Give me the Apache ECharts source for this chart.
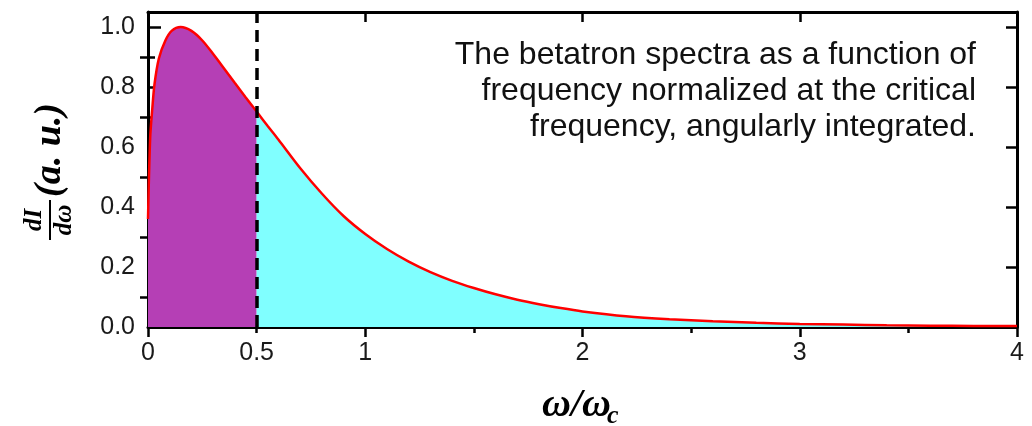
<!DOCTYPE html>
<html>
<head>
<meta charset="utf-8">
<script src="https://cdn.jsdelivr.net/npm/echarts@6/dist/echarts.min.js"></script>
<style>
  html, body { margin: 0; padding: 0; background: #fff; }
  #chart { width: 1032px; height: 426px; }
</style>
</head>
<body>
<div id="chart"></div>
<script>
var xs = [0, 0.01, 0.02, 0.03, 0.05, 0.08, 0.11, 0.15, 0.2, 0.25, 0.3, 0.35, 0.4, 0.45, 0.5,
  0.55, 0.6, 0.7, 0.8, 0.9, 1.0, 1.1, 1.2, 1.3, 1.4, 1.5, 1.6, 1.7, 1.8, 1.9, 2.0,
  2.2, 2.4, 2.6, 2.8, 3.0, 3.2, 3.4, 3.6, 3.8, 4.0];
var ys = [0.36, 0.63, 0.73, 0.81, 0.895, 0.955, 0.988, 1.0, 0.987, 0.955, 0.91, 0.862, 0.813, 0.765, 0.718,
  0.671, 0.625, 0.53, 0.445, 0.37, 0.31, 0.26, 0.218, 0.183, 0.154, 0.13, 0.109, 0.091, 0.076, 0.063, 0.052,
  0.036, 0.026, 0.019, 0.014, 0.010, 0.008, 0.006, 0.0045, 0.0035, 0.003];
var cutX = 0.5;
var xLabels = [0, 0.5, 1, 2, 3, 4];
var xMajor = [0, 1, 2, 3, 4];
var xMinor = [0.5, 1.5, 2.5, 3.5];
var yMajor = [0, 0.2, 0.4, 0.6, 0.8, 1.0];
var yMinor = [0.1, 0.3, 0.5, 0.7, 0.9];
var noteLines = [
  'The betatron spectra as a function of',
  'frequency normalized at the critical',
  'frequency, angularly integrated.'
];

var pairs = xs.map(function(x, i) { return [x, ys[i]]; });
var lowPart = pairs.filter(function(d) { return d[0] <= cutX; });
var highPart = pairs.filter(function(d) { return d[0] >= cutX; });

var chart = echarts.init(document.getElementById('chart'));
var labelFont = { fontFamily: 'Liberation Sans', fontSize: 25, color: '#1a1a1a' };
var mathFont = '"Liberation Serif"';
var smoothness = 0.3;

function frameAxis(pos, opts) {
  var base = {
    type: 'value', position: pos, min: 0,
    axisLine: { show: true, onZero: false, lineStyle: { color: '#000', width: 3 } },
    axisTick: { show: false },
    axisLabel: { show: false },
    splitLine: { show: false }
  };
  return Object.assign(base, opts);
}

var option = {
  animation: false,
  grid: { left: 148, right: 15, top: 12, bottom: 99 },
  xAxis: [
    frameAxis('bottom', {
      max: 4,
      axisTick: { show: true, customValues: xMajor, length: 10, lineStyle: { color: '#000', width: 2.5 } },
      axisLabel: Object.assign({ show: true, margin: 14, customValues: xLabels }, labelFont)
    }),
    frameAxis('bottom', {
      max: 4,
      axisLine: { show: false },
      axisTick: { show: true, customValues: xMinor, length: 6, lineStyle: { color: '#000', width: 2.5 } }
    }),
    frameAxis('top', {
      max: 4,
      axisTick: { show: true, inside: true, customValues: [1, 2, 3], length: 10, lineStyle: { color: '#000', width: 2.5 } }
    })
  ],
  yAxis: [
    frameAxis('left', {
      max: 1.05,
      axisTick: { show: true, inside: true, customValues: yMajor, length: 13, lineStyle: { color: '#000', width: 2.5 } },
      axisLabel: Object.assign({
        show: true, margin: 13, customValues: yMajor,
        formatter: function(v) { return v.toFixed(1); }
      }, labelFont)
    }),
    frameAxis('left', {
      max: 1.05,
      axisLine: { show: false },
      axisTick: { show: true, inside: true, customValues: yMinor, length: 7, lineStyle: { color: '#000', width: 2.5 } }
    }),
    frameAxis('right', {
      max: 1.05,
      axisTick: { show: true, inside: true, customValues: yMajor, length: 11, lineStyle: { color: '#000', width: 2.5 } }
    }),
    frameAxis('right', {
      max: 1.05,
      axisLine: { show: false },
      axisTick: { show: true, inside: true, customValues: yMinor, length: 8, lineStyle: { color: '#000', width: 2.5 } }
    })
  ],
  series: [
    {
      type: 'line', data: lowPart, symbol: 'none', smooth: smoothness,
      lineStyle: { width: 0 },
      areaStyle: { color: '#b53fb5', opacity: 1 },
      z: 2
    },
    {
      type: 'line', data: highPart, symbol: 'none', smooth: smoothness,
      lineStyle: { width: 0 },
      areaStyle: { color: '#80ffff', opacity: 1 },
      z: 2
    },
    {
      type: 'line', data: pairs, symbol: 'none', smooth: smoothness,
      lineStyle: { color: '#ff0000', width: 2.5 },
      z: 3,
      markLine: {
        silent: true, symbol: ['none', 'none'], label: { show: false },
        lineStyle: { color: '#000', width: 3.5, type: [12, 7] },
        data: [{ xAxis: cutX }]
      }
    }
  ],
  graphic: [
    {
      type: 'text', x: 976, y: 37,
      style: {
        text: noteLines.join('\n'), align: 'right', verticalAlign: 'top',
        font: '32px "Liberation Sans"', lineHeight: 36, fill: '#111'
      }
    },
    {
      type: 'group', x: 50, y: 168, rotation: Math.PI / 2,
      children: [
        { type: 'text', style: { text: 'dI', x: -52, y: -3, align: 'center', verticalAlign: 'bottom',
          font: 'bold italic 25px ' + mathFont, fill: '#000' } },
        { type: 'line', shape: { x1: -72, y1: 0, x2: -32, y2: 0 }, style: { stroke: '#000', lineWidth: 2 } },
        { type: 'text', style: { text: 'dω', x: -52, y: 2, align: 'center', verticalAlign: 'top',
          font: 'bold italic 25px ' + mathFont, fill: '#000' } },
        { type: 'text', style: { text: '(a. u.)', x: -29, y: 0, align: 'left', verticalAlign: 'middle',
          font: 'bold italic 38px ' + mathFont, fill: '#000' } }
      ]
    },
    {
      type: 'text', x: 542, y: 406,
      style: { text: 'ω/ω', align: 'left', verticalAlign: 'middle', font: 'bold italic 40px ' + mathFont, fill: '#000' }
    },
    {
      type: 'text', x: 607, y: 416,
      style: { text: 'c', align: 'left', verticalAlign: 'middle', font: 'bold italic 26px ' + mathFont, fill: '#000' }
    }
  ]
};
chart.setOption(option);
</script>
</body>
</html>
